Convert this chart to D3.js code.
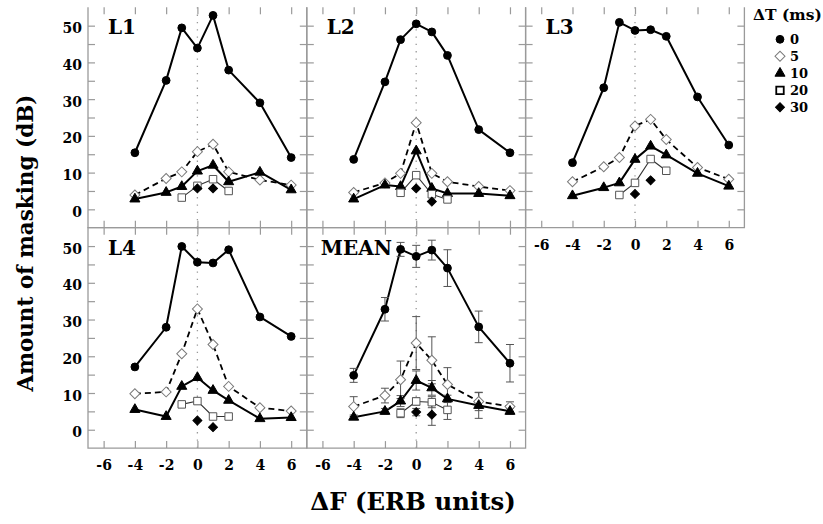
<!DOCTYPE html>
<html><head><meta charset="utf-8">
<script src="https://cdn.jsdelivr.net/npm/d3@7"></script>
<style>
html,body{margin:0;padding:0;background:#fff;}
svg{display:block;font-family:"DejaVu Serif",serif;font-weight:bold;}
</style></head><body>
<svg id="chart" width="823" height="524"></svg>
<script>
// Frequency separations (ERB units) at which each delay was measured
const dfFull = [-4, -2, -1, 0, 1, 2, 4, 6];
const dfMid = [-1, 0, 1, 2];
const dfCentre = [0, 1];

const delays = ["0", "5", "10", "20", "30"];
const panelNames = ["L1", "L2", "L3", "L4", "MEAN"];
const xTicks = [-6, -4, -2, 0, 2, 4, 6];
const yTicks = [0, 5, 10, 15, 20, 25, 30, 35, 40, 45, 50];

// Amount of masking (dB), one array per ΔT
const L1_t0 = [15.4, 35.1, 49.4, 43.9, 52.8, 37.9, 29.0, 14.1];
const L1_t5 = [3.9, 8.4, 10.2, 15.7, 17.7, 10.2, 8.0, 6.6];
const L1_t10 = [2.8, 4.6, 6.2, 10.4, 12.0, 7.5, 10.1, 5.3];
const L1_t20 = [3.2, 6.4, 8.2, 5.0];
const L1_t30 = [5.7, 5.7];

const L2_t0 = [13.6, 34.7, 46.2, 50.5, 48.3, 41.9, 21.7, 15.4];
const L2_t5 = [4.6, 7.2, 9.8, 23.6, 9.8, 7.5, 6.2, 5.1];
const L2_t10 = [2.8, 6.6, 6.2, 15.9, 5.7, 4.3, 4.3, 3.7];
const L2_t20 = [4.5, 9.3, 4.1, 2.7];
const L2_t30 = [5.7, 2.1];

const L3_t0 = [12.7, 33.1, 50.9, 48.7, 48.9, 47.1, 30.6, 17.5];
const L3_t5 = [7.5, 11.6, 14.1, 22.7, 24.5, 19.0, 11.4, 8.2];
const L3_t10 = [3.7, 5.9, 7.2, 13.6, 17.2, 14.8, 9.8, 6.3];
const L3_t20 = [3.9, 7.2, 13.7, 10.5];
const L3_t30 = [4.2, 7.9];

const L4_t0 = [17.1, 27.9, 49.9, 45.6, 45.4, 49.0, 30.7, 25.4];
const L4_t5 = [9.8, 10.3, 20.7, 32.9, 23.2, 11.8, 6.0, 5.1];
const L4_t10 = [5.5, 3.6, 11.8, 14.2, 10.7, 8.0, 3.0, 3.3];
const L4_t20 = [6.9, 7.8, 3.6, 3.6];
const L4_t30 = [2.5, 0.7];

const MEAN_t0 = [14.8, 32.8, 49.1, 47.2, 48.9, 44.0, 28.0, 18.1];
const MEAN_t5 = [6.3, 9.3, 13.6, 23.6, 18.9, 12.3, 7.7, 6.3];
const MEAN_t10 = [3.4, 5.0, 7.8, 13.4, 11.4, 8.4, 6.6, 5.0];
const MEAN_t20 = [4.5, 7.7, 7.5, 5.4];
const MEAN_t30 = [4.8, 4.1];

// Spread across listeners (± dB) for the mean panel
const MEAN_e0 = [1.9, 3.2, 1.9, 3.0, 2.7, 5.0, 4.3, 5.1];
const MEAN_e5 = [2.7, 2.0, 5.1, 7.2, 6.4, 4.6, 2.5, 1.3];
const MEAN_e10 = [0.6, 0.8, 1.5, 2.6, 2.0, 1.0, 3.5, 0.8];
const MEAN_e20 = [1.2, 1.0, 1.5, 2.6];
const MEAN_e30 = [1.0, 2.9];

const panelSeries = [
  [L1_t0, L1_t5, L1_t10, L1_t20, L1_t30],
  [L2_t0, L2_t5, L2_t10, L2_t20, L2_t30],
  [L3_t0, L3_t5, L3_t10, L3_t20, L3_t30],
  [L4_t0, L4_t5, L4_t10, L4_t20, L4_t30],
  [MEAN_t0, MEAN_t5, MEAN_t10, MEAN_t20, MEAN_t30]
];
const meanErrors = [MEAN_e0, MEAN_e5, MEAN_e10, MEAN_e20, MEAN_e30];
const seriesX = [dfFull, dfFull, dfFull, dfMid, dfCentre];

// Look of each delay: marker and connecting line
const rot45 = "rotate(45)";
const looks = [
  { sym: d3.symbolCircle, size: 48, fill: "#000", stroke: "#000", rot: "", line: { w: 2, dash: null, col: "#000" } },
  { sym: d3.symbolSquare, size: 50, fill: "#fff", stroke: "#7a7a7a", rot: rot45, line: { w: 1.8, dash: "6,4", col: "#000" } },
  { sym: d3.symbolTriangle, size: 44, fill: "#000", stroke: "#000", rot: "", line: { w: 2, dash: null, col: "#000" } },
  { sym: d3.symbolSquare, size: 56, fill: "#fff", stroke: "#555", rot: "", line: { w: 1.1, dash: null, col: "#333" } },
  { sym: d3.symbolSquare, size: 40, fill: "#000", stroke: "#000", rot: rot45, line: null }
];

const svg = d3.select("#chart");
svg.append("rect").attr("width", 823).attr("height", 524).attr("fill", "#fff");

const gridLeft = 88, gridTop = 7.3, pw = 218.8, ph = 220.4;
const x = d3.scaleLinear().domain([-7, 7]).range([0, pw]);
const y = d3.scaleLinear().domain([-5, 55]).range([ph, 0]);
const frameCol = "#9a9a9a";

function styleAxis(sel) {
  sel.select(".domain").remove();
  sel.selectAll(".tick line").attr("stroke", frameCol).attr("stroke-width", 1.2);
  sel.selectAll(".tick text").attr("fill", "#000").attr("font-family", "DejaVu Serif")
    .attr("font-weight", "bold").attr("font-size", 14);
}

// plain hyphen for negative tick values
const plain = d => String(d);

panelNames.forEach((name, p) => {
  const col = p % 3, row = Math.floor(p / 3);
  const g = svg.append("g")
    .attr("transform", `translate(${gridLeft + col * pw},${gridTop + row * ph})`);

  // dotted reference at ΔF = 0
  g.append("line").attr("x1", x(0)).attr("x2", x(0)).attr("y1", 0).attr("y2", ph)
    .attr("stroke", "#999").attr("stroke-width", 1.3).attr("stroke-dasharray", "1.3,6");

  // inward ticks on all four sides
  const showX = p >= 2;
  const showY = col === 0;
  g.append("g").attr("transform", `translate(0,${ph})`)
    .call(d3.axisBottom(x).tickValues(xTicks).tickSizeInner(-7).tickSizeOuter(0).tickPadding(12)
      .tickFormat(showX ? plain : () => ""))
    .call(styleAxis);
  g.append("g")
    .call(d3.axisTop(x).tickValues(xTicks).tickSizeInner(-7).tickSizeOuter(0).tickFormat(() => ""))
    .call(styleAxis);
  g.append("g")
    .call(d3.axisLeft(y).tickValues(yTicks).tickSizeInner(-7).tickSizeOuter(0).tickPadding(6)
      .tickFormat(d => (showY && d % 10 === 0) ? plain(d) : ""))
    .call(styleAxis)
    .selectAll(".tick text").attr("dy", "0.5em");
  g.append("g").attr("transform", `translate(${pw},0)`)
    .call(d3.axisRight(y).tickValues(yTicks).tickSizeInner(-7).tickSizeOuter(0).tickFormat(() => ""))
    .call(styleAxis);

  // frame (open along the very top of the upper row)
  const framePath = row === 0
    ? `M0,0V${ph}H${pw}V0`
    : `M0,0V${ph}H${pw}V0Z`;
  g.append("path").attr("d", framePath).attr("fill", "none")
    .attr("stroke", frameCol).attr("stroke-width", 1.3);

  const series = panelSeries[p];

  // connecting lines
  series.forEach((vals, k) => {
    const look = looks[k];
    if (!look.line) return;
    const pts = vals.map((v, i) => [seriesX[k][i], v]);
    g.append("path")
      .attr("d", d3.line().x(d => x(d[0])).y(d => y(d[1]))(pts))
      .attr("fill", "none").attr("stroke", look.line.col)
      .attr("stroke-width", look.line.w)
      .attr("stroke-dasharray", look.line.dash)
      .attr("stroke-linejoin", "round");
  });

  // error bars for the mean panel
  if (name === "MEAN") {
    series.forEach((vals, k) => {
      vals.forEach((v, i) => {
        const e = meanErrors[k][i];
        const cx = x(seriesX[k][i]);
        const eb = g.append("g").attr("stroke", "#555").attr("stroke-width", 1);
        eb.append("line").attr("x1", cx).attr("x2", cx).attr("y1", y(v - e)).attr("y2", y(v + e));
        eb.append("line").attr("x1", cx - 4).attr("x2", cx + 4).attr("y1", y(v - e)).attr("y2", y(v - e));
        eb.append("line").attr("x1", cx - 4).attr("x2", cx + 4).attr("y1", y(v + e)).attr("y2", y(v + e));
      });
    });
  }

  // markers
  series.forEach((vals, k) => {
    const look = looks[k];
    const sym = d3.symbol().type(look.sym).size(look.size);
    vals.forEach((v, i) => {
      g.append("path").attr("d", sym())
        .attr("transform", `translate(${x(seriesX[k][i])},${y(v)}) ${look.rot}`)
        .attr("fill", look.fill).attr("stroke", look.stroke).attr("stroke-width", 1);
    });
  });

  // panel name
  g.append("text").attr("x", name.length > 2 ? 14 : 20).attr("y", 27)
    .attr("font-size", 20).attr("fill", "#000").text(name);
});

// legend
const leg = svg.append("g");
leg.append("text").attr("x", 753).attr("y", 20).attr("font-size", 15.5).attr("fill", "#000").text("ΔT (ms)");
delays.forEach((lab, k) => {
  const look = looks[k];
  const cy = 39.3 + k * 17;
  leg.append("path").attr("d", d3.symbol().type(look.sym).size(look.size)())
    .attr("transform", `translate(780,${cy}) ${look.rot}`)
    .attr("fill", look.fill).attr("stroke", k === 3 ? "#000" : look.stroke)
    .attr("stroke-width", k === 3 ? 1.8 : 1);
  leg.append("text").attr("x", 790).attr("y", cy).attr("dy", "0.36em")
    .attr("font-size", 13).attr("fill", "#000").text(lab);
});

// axis titles
svg.append("text").attr("x", 413).attr("y", 510)
  .attr("text-anchor", "middle").attr("font-size", 24.4).attr("fill", "#000")
  .text("ΔF (ERB units)");
svg.append("text").attr("transform", "translate(33,243) rotate(-90)")
  .attr("text-anchor", "middle").attr("font-size", 21.5).attr("fill", "#000")
  .text("Amount of masking (dB)");
</script>
</body></html>
